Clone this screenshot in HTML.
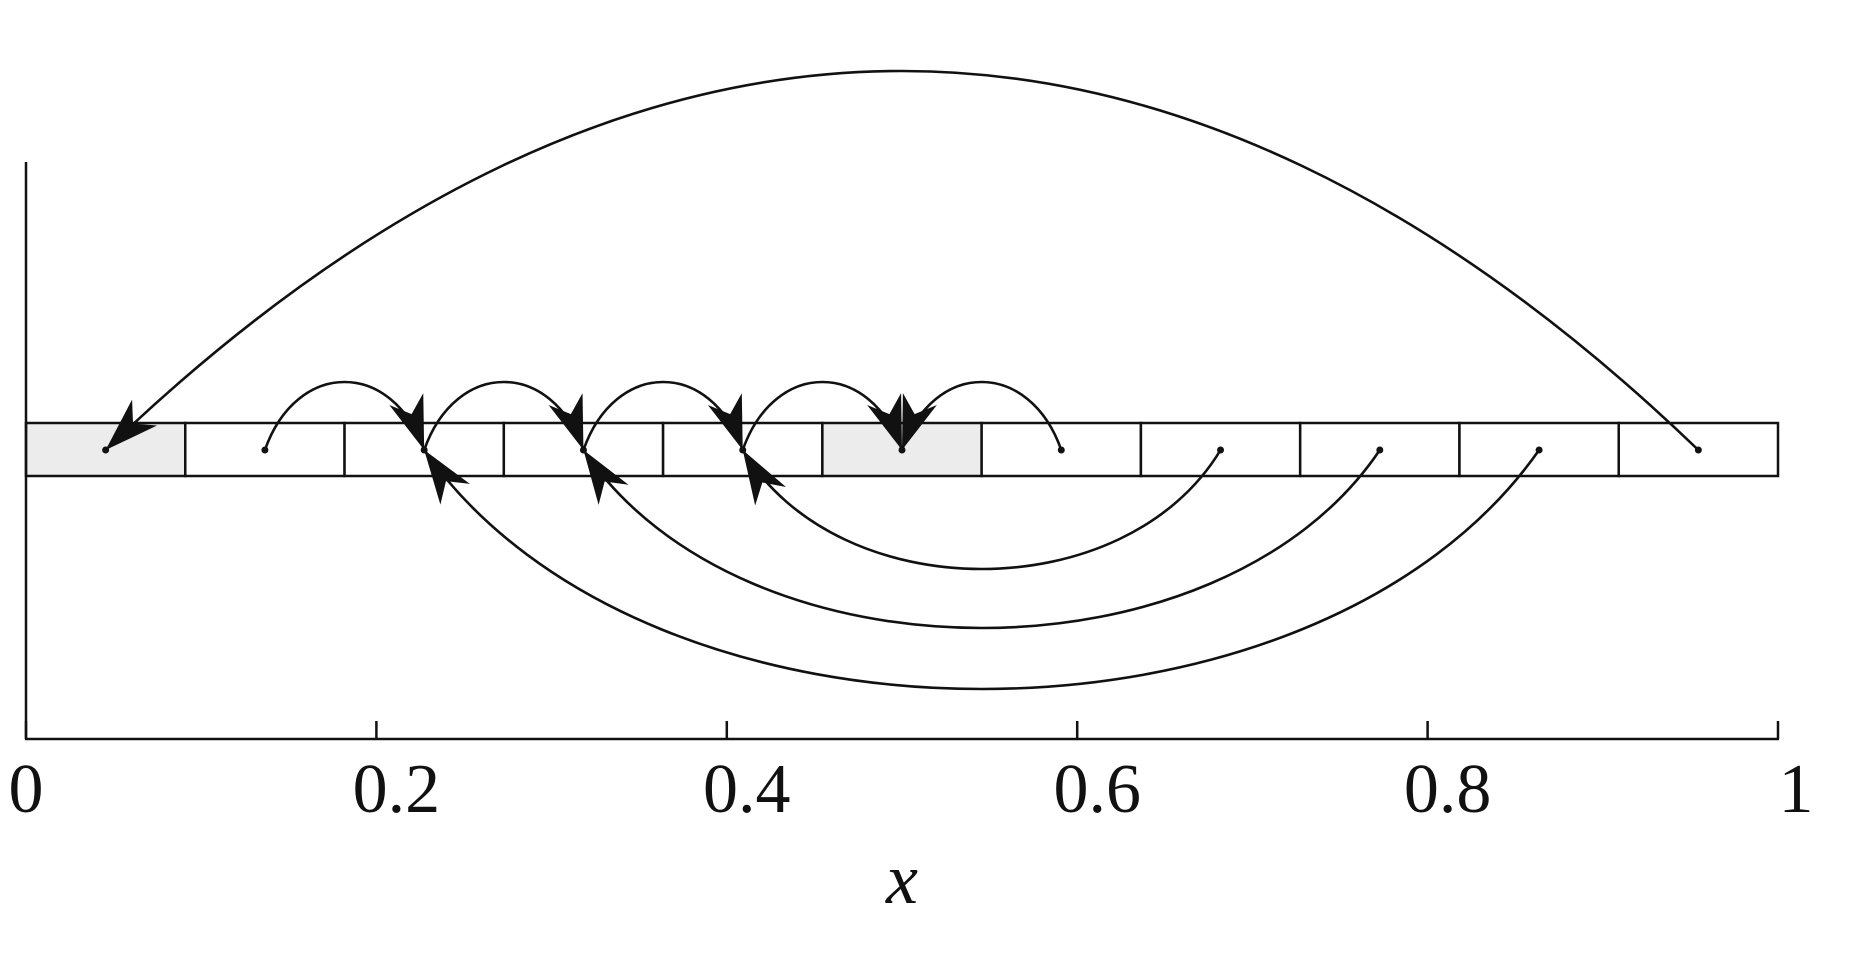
<!DOCTYPE html>
<html><head><meta charset="utf-8"><style>
html,body{margin:0;padding:0;background:#fff;}
svg{display:block;}
text{font-family:"Liberation Serif",serif;fill:#111;}
</style></head>
<body>
<svg id="chart" width="1852" height="962" viewBox="0 0 1852 962" xmlns="http://www.w3.org/2000/svg">
<g id="cells"></g>
<g id="arcs"></g>
<g id="axes"></g>
</svg>
<script>
const nCells = 11;
const shadedCells = [0, 5];
const arcSources = [10, 1, 2, 3, 4, 6, 7, 8, 9];
const arcTargets = [0, 2, 3, 4, 5, 5, 4, 3, 2];
const arcHeights = [379, 68, 68, 68, 68, 68, -119, -178, -239];
const tickValues = [0, 0.2, 0.4, 0.6, 0.8, 1];
const tickLabels = ["0", "0.2", "0.4", "0.6", "0.8", "1"];

const NS = "http://www.w3.org/2000/svg";
const X0 = 26, X1 = 1778, AXY = 739, STRIP_T = 423, STRIP_B = 476, MIDY = 450;
const xs = v => X0 + v * (X1 - X0);
const cx = k => xs((k + 0.5) / nCells);
function mk(tag, attrs, parent) {
  const e = document.createElementNS(NS, tag);
  for (const k in attrs) e.setAttribute(k, attrs[k]);
  parent.appendChild(e);
  return e;
}
const cellsG = document.getElementById('cells');
for (let k = 0; k < nCells; k++) {
  const r = mk('rect', {x: xs(k / nCells), y: STRIP_T, width: xs((k + 1) / nCells) - xs(k / nCells), height: STRIP_B - STRIP_T,
    fill: shadedCells.includes(k) ? '#ececec' : '#fff', stroke: '#111', 'stroke-width': 2.5}, cellsG);
  
  
}
const arcsG = document.getElementById('arcs');
for (let i = 0; i < arcSources.length; i++) {
  const sx = cx(arcSources[i]), tx = cx(arcTargets[i]);
  const H = arcHeights[i] / 0.75;
  const big = Math.abs(arcHeights[i]) > 300;
  const f = big ? 0.33 : 0.2;
  const c1x = sx + (tx - sx) * f, c2x = sx + (tx - sx) * (1 - f);
  const cy = MIDY - H;
  const p = mk('path', {d: `M${sx},${MIDY} C${c1x},${cy} ${c2x},${cy} ${tx},${MIDY}`, fill: 'none', stroke: '#111', 'stroke-width': 2.6}, arcsG);
  
  
  let dx = tx - c2x, dy = MIDY - cy;
  const L = Math.hypot(dx, dy); dx /= L; dy /= L;
  const len = 54, hw = 18, notch = 38;
  const bx = tx - dx * len, by = MIDY - dy * len;
  const nx = -dy, ny = dx;
  const pts = [[tx, MIDY], [bx + nx * hw, by + ny * hw], [tx - dx * notch, MIDY - dy * notch], [bx - nx * hw, by - ny * hw]];
  const a = mk('polygon', {points: pts.map(q => q.join(',')).join(' '), fill: '#111'}, arcsG);
  
  
}
for (let k = 0; k < nCells; k++) {
  const d = mk('circle', {cx: cx(k), cy: MIDY, r: 3.5, fill: '#111'}, arcsG);
  
  
}
const axG = document.getElementById('axes');
const yl = mk('line', {x1: X0, y1: 162, x2: X0, y2: AXY, stroke: '#111', 'stroke-width': 2.5}, axG);


const xl = mk('line', {x1: X0 - 1, y1: AXY, x2: X1 + 1, y2: AXY, stroke: '#111', 'stroke-width': 2.5}, axG);


for (let i = 0; i < tickValues.length; i++) {
  const x = xs(tickValues[i]);
  const t = mk('line', {x1: x, y1: AXY, x2: x, y2: AXY - 18, stroke: '#111', 'stroke-width': 2.5}, axG);
  
  
  const lb = mk('text', {x: x + (i === tickValues.length - 1 ? 18 : (i === 0 ? 0 : 20)), y: 812, 'font-size': 70, 'text-anchor': 'middle'}, axG);
  lb.textContent = tickLabels[i];
  
  
}
const xt = mk('text', {x: xs(0.5), y: 903, 'font-size': 72, 'font-style': 'italic', 'text-anchor': 'middle'}, axG);
xt.textContent = 'x';


</script>
</body></html>
